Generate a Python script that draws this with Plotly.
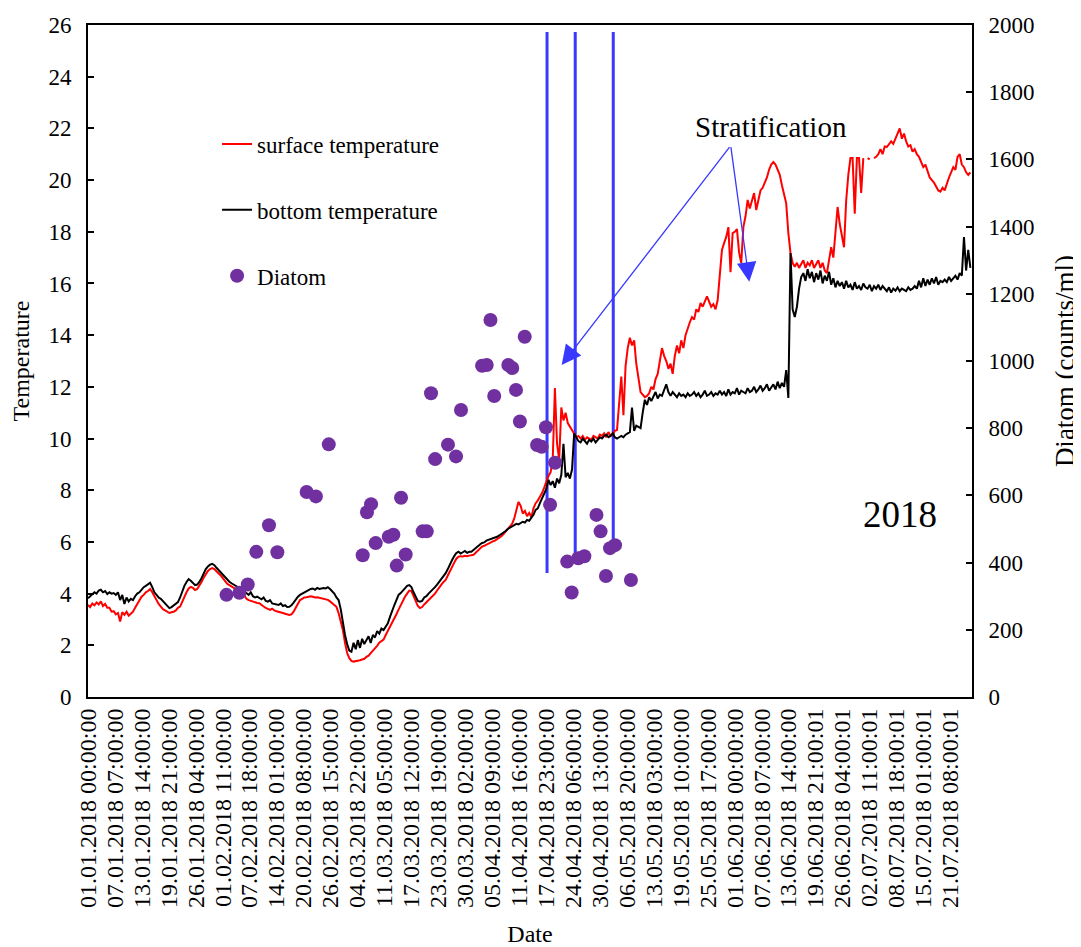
import pandas as pd
import plotly.graph_objects as go

# ---------------- data ----------------
tick_labels = [
    "01.01.2018 00:00:00", "07.01.2018 07:00:00", "13.01.2018 14:00:00", "19.01.2018 21:00:00",
    "26.01.2018 04:00:00", "01.02.2018 11:00:00", "07.02.2018 18:00:00", "14.02.2018 01:00:00",
    "20.02.2018 08:00:00", "26.02.2018 15:00:00", "04.03.2018 22:00:00", "11.03.2018 05:00:00",
    "17.03.2018 12:00:00", "23.03.2018 19:00:00", "30.03.2018 02:00:00", "05.04.2018 09:00:00",
    "11.04.2018 16:00:00", "17.04.2018 23:00:00", "24.04.2018 06:00:00", "30.04.2018 13:00:00",
    "06.05.2018 20:00:00", "13.05.2018 03:00:00", "19.05.2018 10:00:00", "25.05.2018 17:00:00",
    "01.06.2018 00:00:00", "07.06.2018 07:00:00", "13.06.2018 14:00:00", "19.06.2018 21:00:01",
    "26.06.2018 04:00:01", "02.07.2018 11:00:01", "08.07.2018 18:00:01", "15.07.2018 01:00:01",
    "21.07.2018 08:00:01",
]

# 12-hourly readings starting 01.01.2018 00:00
surface_temp = [
    3.56, 3.48, 3.62, 3.55, 3.66, 3.58, 3.70, 3.52, 3.60, 3.45,
    3.45, 3.30, 3.32, 3.20, 3.25, 2.92, 3.28, 3.18, 3.30, 3.15,
    3.22, 3.30, 3.45, 3.60, 3.75, 3.88, 3.95, 4.05, 4.10, 4.18,
    4.05, 3.90, 3.72, 3.60, 3.50, 3.40, 3.35, 3.30, 3.25, 3.28,
    3.30, 3.35, 3.45, 3.50, 3.70, 3.90, 4.05, 4.20, 4.26, 4.22,
    4.14, 4.18, 4.30, 4.45, 4.62, 4.78, 4.88, 4.95, 4.99, 4.95,
    4.85, 4.78, 4.70, 4.58, 4.45, 4.38, 4.33, 4.28, 4.22, 4.18,
    4.14, 4.10, 4.02, 3.92, 3.80, 3.75, 3.72, 3.70, 3.65, 3.64,
    3.63, 3.55, 3.50, 3.45, 3.40, 3.37, 3.42, 3.35, 3.32, 3.30,
    3.30, 3.25, 3.22, 3.18, 3.17, 3.20, 3.30, 3.45, 3.60, 3.75,
    3.80, 3.85, 3.86, 3.88, 3.90, 3.88, 3.85, 3.86, 3.84, 3.83,
    3.82, 3.80, 3.76, 3.70, 3.62, 3.55, 3.49, 3.25, 2.90, 2.59,
    2.10, 1.70, 1.50, 1.40, 1.37, 1.38, 1.40, 1.42, 1.45, 1.48,
    1.55, 1.60, 1.70, 1.78, 1.88, 1.98, 2.10, 2.15, 2.22, 2.40,
    2.55, 2.72, 2.86, 3.00, 3.20, 3.38, 3.55, 3.75, 3.88, 4.00,
    4.12, 4.10, 3.90, 3.68, 3.52, 3.44, 3.48, 3.58, 3.66, 3.75,
    3.82, 3.88, 4.00, 4.12, 4.25, 4.35, 4.45, 4.53, 4.70, 4.88,
    5.05, 5.20, 5.35, 5.43, 5.45, 5.44, 5.46, 5.45, 5.47, 5.48,
    5.50, 5.58, 5.65, 5.72, 5.82, 5.85, 5.90, 5.95, 6.00, 6.02,
    6.05, 6.10, 6.15, 6.22, 6.30, 6.40, 6.48, 6.58, 6.70, 6.90,
    7.20, 7.55, 7.40, 7.10, 7.20, 7.00, 7.12, 6.96, 7.30, 7.50,
    7.60, 7.72, 7.89, 8.10, 8.35, 8.55, 8.70, 9.20, 11.95, 9.80,
    9.17, 11.20, 10.70, 11.00, 10.60, 10.45, 10.33, 10.20, 10.05, 10.10,
    10.00, 10.10, 9.95, 10.05, 10.00, 9.95, 10.10, 10.05, 10.00, 10.15,
    10.10, 10.20, 10.05, 10.25, 10.10, 10.15, 10.30, 10.33, 11.50, 12.40,
    10.90, 12.80, 13.50, 13.90, 13.60, 13.80, 12.90, 12.30, 11.80, 11.70,
    11.60, 11.65, 11.75, 12.00, 11.90, 12.30, 12.50, 13.00, 13.50, 13.20,
    13.00, 12.70, 12.90, 12.50, 13.20, 13.60, 13.30, 13.80, 13.50, 14.00,
    14.30, 14.50, 14.70, 14.60, 15.00, 14.90, 15.24, 15.10, 15.30, 15.50,
    15.30, 15.10, 15.20, 15.00, 15.36, 16.50, 17.30, 17.56, 17.80, 18.18,
    16.44, 17.95, 18.00, 18.10, 17.20, 16.79, 18.18, 18.60, 19.23, 18.90,
    19.20, 19.50, 18.84, 19.30, 19.60, 19.70, 19.90, 20.10, 20.40, 20.60,
    20.70, 20.60, 20.40, 20.20, 19.80, 19.50, 19.10, 17.95, 17.18, 16.79,
    16.65, 16.80, 16.60, 16.75, 16.90, 16.60, 16.80, 16.70, 16.90, 16.60,
    16.75, 16.90, 16.60, 16.80, 16.50, 16.40, 16.90, 17.40, 17.00, 18.00,
    18.96, 18.30, 17.80, 17.40, 19.20, 20.20, 20.85, 20.85, 18.70, 20.85,
    20.85, 19.50, 20.85, None, 20.85, 20.80, None, 20.85, 20.90, 21.00,
    21.20, 21.00, 21.30, 21.28, 21.40, 21.50, 21.40, 21.60, 21.80, 22.00,
    21.60, 21.80, 21.50, 21.30, 21.35, 21.10, 21.20, 21.00, 20.90, 20.70,
    20.50, 20.60, 20.30, 20.10, 20.00, 19.90, 19.75, 19.60, 19.55, 19.70,
    19.60, 19.90, 20.10, 20.30, 20.50, 20.40, 20.90, 21.00, 20.60, 20.50,
    20.30, 20.20, 20.30,
]

bottom_temp = [
    3.82, 3.90, 3.98, 4.05, 4.00, 4.12, 4.15, 4.05, 4.10, 3.98,
    4.05, 4.00, 4.02, 3.95, 4.05, 3.75, 3.95, 3.60, 3.85, 3.70,
    3.80, 3.75, 3.90, 4.00, 4.05, 4.15, 4.25, 4.30, 4.38, 4.42,
    4.25, 4.05, 3.95, 3.85, 3.80, 3.70, 3.60, 3.50, 3.44, 3.48,
    3.55, 3.62, 3.67, 3.85, 4.10, 4.30, 4.45, 4.56, 4.50, 4.40,
    4.33, 4.35, 4.45, 4.60, 4.80, 4.95, 5.05, 5.12, 5.15, 5.10,
    5.00, 4.91, 4.80, 4.70, 4.60, 4.52, 4.46, 4.40, 4.35, 4.30,
    4.27, 4.20, 4.15, 4.08, 4.01, 3.95, 4.05, 3.90, 3.85, 3.88,
    3.83, 3.78, 3.85, 3.72, 3.69, 3.75, 3.62, 3.60, 3.58, 3.56,
    3.62, 3.52, 3.55, 3.48, 3.49, 3.55, 3.65, 3.78, 3.88, 3.95,
    4.00, 4.05, 4.10, 4.15, 4.18, 4.20, 4.15, 4.22, 4.18, 4.20,
    4.22, 4.20, 4.25, 4.18, 4.10, 4.00, 3.85, 3.75, 3.40, 2.86,
    2.40, 2.05, 1.80, 1.75, 2.10, 1.85, 2.20, 1.90, 2.25, 2.05,
    2.20, 2.35, 2.09, 2.40, 2.30, 2.55, 2.45, 2.65, 2.59, 2.72,
    2.85, 3.10, 3.37, 3.55, 3.75, 3.95, 4.02, 4.10, 4.20, 4.30,
    4.33, 4.25, 4.05, 3.85, 3.72, 3.69, 3.72, 3.85, 3.90, 4.00,
    4.08, 4.14, 4.25, 4.35, 4.45, 4.55, 4.65, 4.79, 4.95, 5.15,
    5.30, 5.45, 5.57, 5.62, 5.55, 5.60, 5.65, 5.58, 5.62, 5.62,
    5.70, 5.75, 5.85, 5.90, 5.96, 5.98, 6.05, 6.08, 6.10, 6.15,
    6.18, 6.20, 6.25, 6.30, 6.38, 6.42, 6.50, 6.55, 6.59, 6.65,
    6.70, 6.68, 6.72, 6.78, 6.75, 6.85, 6.82, 6.95, 7.05, 7.24,
    7.30, 7.50, 7.69, 7.90, 8.05, 8.40, 8.20, 8.35, 8.10, 8.45,
    8.27, 8.60, 9.80, 8.50, 8.67, 8.45, 8.80, 10.20, 10.05, 9.90,
    9.85, 10.00, 9.90, 9.80, 9.95, 9.88, 10.00, 9.85, 9.95, 10.05,
    10.00, 10.10, 10.15, 10.05, 10.10, 10.20, 10.05, 10.00, 10.05, 10.10,
    10.05, 10.15, 10.20, 10.25, 11.20, 10.30, 10.50, 10.45, 10.40, 11.00,
    11.50, 11.30, 11.60, 11.45, 11.60, 11.80, 11.55, 11.70, 11.65, 11.90,
    12.10, 11.80, 11.65, 11.80, 11.70, 11.60, 11.75, 11.65, 11.70, 11.60,
    11.75, 11.65, 11.70, 11.80, 11.65, 11.75, 11.60, 11.70, 11.85, 11.65,
    11.70, 11.80, 11.65, 11.75, 11.70, 11.85, 11.70, 11.80, 11.65, 11.90,
    11.70, 11.80, 11.75, 11.95, 11.70, 11.85, 11.80, 11.75, 11.95, 11.80,
    11.85, 12.00, 11.80, 11.90, 12.05, 11.85, 11.95, 12.10, 11.85, 12.00,
    12.10, 11.90, 12.20, 11.95, 12.15, 12.00, 12.65, 11.57, 17.18, 15.00,
    14.70, 15.10, 15.80, 16.25, 16.40, 16.10, 16.55, 16.20, 16.45, 16.05,
    16.40, 16.15, 16.50, 16.00, 16.30, 16.10, 16.45, 15.95, 16.20, 15.85,
    16.10, 15.90, 16.05, 15.80, 16.10, 15.85, 15.95, 15.75, 16.05, 15.80,
    15.90, 15.75, 16.00, 15.85, 15.80, 15.95, 15.70, 15.90, 15.80, 15.95,
    15.75, 15.90, 15.80, 15.70, 15.85, 15.65, 15.80, 15.72, 15.85, 15.70,
    15.80, 15.75, 15.70, 15.85, 15.75, 15.80, 15.90, 15.80, 16.10, 15.85,
    16.20, 15.90, 16.15, 15.95, 16.20, 16.00, 16.25, 15.95, 16.10, 16.05,
    16.15, 16.05, 16.25, 16.10, 16.20, 16.30, 16.15, 16.40, 16.30, 17.80,
    16.50, 17.30, 16.60,
]

diatom_dates = [
    "2018-02-02 08:00", "2018-02-05 08:00", "2018-02-07 07:00", "2018-02-09 07:00",
    "2018-02-12 06:00", "2018-02-14 05:00", "2018-02-21 01:00", "2018-02-23 05:00",
    "2018-02-26 05:00", "2018-03-06 03:00", "2018-03-07 03:00", "2018-03-08 02:00",
    "2018-03-09 04:00", "2018-03-12 05:00", "2018-03-13 07:00", "2018-03-14 02:00",
    "2018-03-15 02:00", "2018-03-16 04:00", "2018-03-20 03:00", "2018-03-21 02:00",
    "2018-03-22 02:00", "2018-03-23 01:00", "2018-03-26 01:00", "2018-03-27 22:00",
    "2018-03-29 02:00", "2018-04-03 00:00", "2018-04-04 02:00", "2018-04-04 23:00",
    "2018-04-05 20:00", "2018-04-09 03:00", "2018-04-10 01:00", "2018-04-10 22:00",
    "2018-04-11 20:00", "2018-04-12 23:00", "2018-04-15 20:00", "2018-04-16 22:00",
    "2018-04-17 22:00", "2018-04-18 21:00", "2018-04-20 01:00", "2018-04-22 21:00",
    "2018-04-23 22:00", "2018-04-25 11:00", "2018-04-26 21:00", "2018-04-29 17:00",
    "2018-04-30 16:00", "2018-05-01 22:00", "2018-05-02 21:00", "2018-05-04 01:00",
    "2018-05-07 18:00",
]
diatom_counts = [
    304, 310, 335, 432, 511, 431, 610, 597, 752, 422,
    550, 574, 458, 477, 483, 391, 593, 424, 493, 493,
    904, 708, 751, 716, 854, 986, 988, 1122, 896, 988,
    979, 914, 820, 1072, 750, 745, 803, 572, 697, 403,
    311, 413, 419, 542, 493, 360, 443, 452, 348,
]

# stratification markers (vertical blue lines)
strat_dates = ["2018-04-18 04:00", "2018-04-24 18:00", "2018-05-03 15:00"]
strat_low = [4.8, 5.18, 5.69]
strat_high = [25.73, 25.73, 25.73]

# ---------------- figure ----------------
FONT = "Times New Roman, Liberation Serif, serif"
times = pd.date_range("2018-01-01 00:00", periods=len(surface_temp), freq="12h")
tick_times = pd.date_range("2018-01-01 00:00", periods=len(tick_labels), freq="151h")

fig = go.Figure()

for d, lo, hi in zip(strat_dates, strat_low, strat_high):
    fig.add_trace(go.Scatter(x=[d, d], y=[lo, hi], mode="lines",
                             line=dict(color="#3838FF", width=3),
                             showlegend=False, hoverinfo="skip"))

fig.add_trace(go.Scatter(x=times, y=surface_temp, mode="lines", name="surface temperature",
                         line=dict(color="#FF0000", width=2), legendgroup="a",
                         connectgaps=False))
fig.add_trace(go.Scatter(x=times, y=bottom_temp, mode="lines", name="bottom temperature",
                         line=dict(color="#000000", width=2), legendgroup="b"))
fig.add_trace(go.Scatter(x=pd.to_datetime(diatom_dates), y=diatom_counts, mode="markers",
                         name="Diatom", yaxis="y2", legendgroup="c",
                         marker=dict(color="#7030A0", size=14)))

arrow_common = dict(text="", showarrow=True, axref="x", ayref="y", xref="x", yref="y",
                    arrowhead=2, arrowsize=3, arrowwidth=1.3, arrowcolor="#3838FF",
                    standoff=0, startstandoff=0)
fig.add_annotation(x="2018-04-21 14:00", y=12.85, ax="2018-05-31 01:00", ay=21.33, **arrow_common)
fig.add_annotation(x="2018-06-04 09:00", y=16.07, ax="2018-05-31 01:00", ay=21.33, **arrow_common)

fig.add_annotation(text="Stratification", xref="paper", yref="paper", x=0.7726, y=0.848,
                   xanchor="center", yanchor="middle",
                   showarrow=False, font=dict(family=FONT, size=29, color="black"))
fig.add_annotation(text="2018", xref="paper", yref="paper", x=0.9186, y=0.271,
                   xanchor="center", yanchor="middle",
                   showarrow=False, font=dict(family=FONT, size=37, color="black"))

# page body has an 8px margin, so the figure is sized to leave the plot area where the reference has it
fig.update_layout(
    width=1073, height=939,
    margin=dict(l=80, r=109, t=17, b=250),
    paper_bgcolor="white", plot_bgcolor="white",
    font=dict(family=FONT, size=24, color="black"),
    showlegend=True,
    legend=dict(x=0.146, y=0.855, xanchor="left", yanchor="top",
                bgcolor="rgba(0,0,0,0)", tracegroupgap=33,
                font=dict(family=FONT, size=23, color="black")),
    xaxis=dict(type="date", range=["2018-01-01 00:00", "2018-07-26 09:00"],
               tickmode="array", tickvals=tick_times, ticktext=tick_labels,
               tickangle=-90, tickfont=dict(family=FONT, size=24), automargin=False,
               showline=True, linecolor="black", linewidth=2, mirror=True,
               showgrid=False, zeroline=False, ticks="",
               title=dict(text="Date", font=dict(family=FONT, size=24), standoff=20)),
    yaxis=dict(range=[0, 26], dtick=2, tick0=0, showgrid=False, zeroline=False,
               showline=True, linecolor="black", linewidth=2, automargin=False,
               ticks="inside", ticklen=6, tickwidth=1.5, tickcolor="black",
               ticklabelstandoff=10,
               tickfont=dict(family=FONT, size=23),
               title=dict(text="Temperature", font=dict(family=FONT, size=24), standoff=12)),
    yaxis2=dict(range=[0, 2000], dtick=200, tick0=0, overlaying="y", side="right",
                showgrid=False, zeroline=False, automargin=False,
                showline=True, linecolor="black", linewidth=2,
                ticks="inside", ticklen=6, tickwidth=1.5, tickcolor="black",
                ticklabelstandoff=10,
                tickfont=dict(family=FONT, size=23),
                title=dict(text="Diatom (counts/ml)", font=dict(family=FONT, size=27), standoff=22)),
)

fig.write_html("out.html")
